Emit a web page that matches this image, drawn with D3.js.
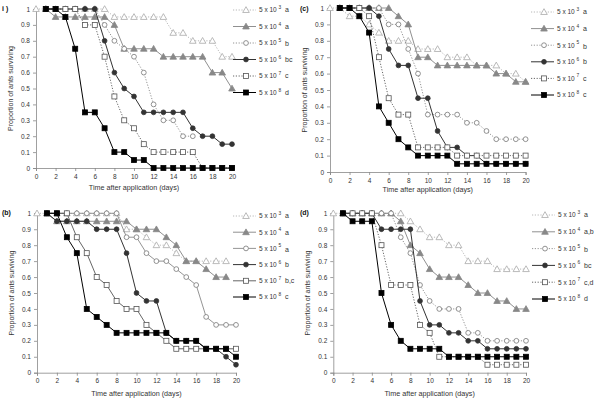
<!DOCTYPE html>
<html><head><meta charset="utf-8">
<script src="https://cdn.jsdelivr.net/npm/d3@7"></script>
<style>body{margin:0;background:#fff}svg{display:block;font-family:"Liberation Sans",Arial,sans-serif}</style>
</head><body><svg id="c" width="600" height="400"></svg>
<script>
// ---- data (days 0..20, null = no point) ----
const days = [0,1,2,3,4,5,6,7,8,9,10,11,12,13,14,15,16,17,18,19,20];
const xTicks = [0,2,4,6,8,10,12,14,16,18,20];
const yTicks = [0,0.1,0.2,0.3,0.4,0.5,0.6,0.7,0.8,0.9,1];
const doseExp = ["3","4","5","6","7","8"];

const a3 = [1,1,1,1,1,1,1,1,0.95,0.95,0.95,0.95,0.95,0.95,0.85,0.85,0.8,0.8,0.8,0.7,0.7];
const a4 = [null,1,0.95,0.95,0.95,0.95,0.95,0.95,0.9,0.75,0.75,0.75,0.75,0.7,0.7,0.7,0.7,0.7,0.6,0.6,0.5];
const a5 = [null,1,1,1,1,1,1,0.9,0.8,0.75,0.7,0.6,0.4,0.3,0.3,0.2,0.2,null,null,null,null];
const a6 = [null,1,1,1,1,1,1,0.8,0.6,0.5,0.45,0.35,0.35,0.35,0.35,0.35,0.25,0.2,0.2,0.15,0.15];
const a7 = [null,1,1,1,1,0.9,0.9,0.7,0.45,0.3,0.25,0.15,0.1,0.1,0.1,0.1,0.1,0,0,0,0];
const a8 = [null,1,1,0.95,0.75,0.35,0.35,0.25,0.1,0.1,0.05,0.05,0,0,0,0,0,0,0,0,0];
const lettersA = ["a","a","b","bc","c","d"];

const c3 = [1,1,0.95,0.95,0.9,0.85,0.8,0.8,0.8,0.75,0.75,0.75,0.7,0.7,0.7,0.65,0.65,0.65,0.6,0.6,0.55];
const c4 = [null,1,1,1,1,1,1,0.95,0.9,0.7,0.7,0.65,0.65,0.65,0.65,0.65,0.65,0.6,0.6,0.55,0.55];
const c5 = [null,1,1,1,1,1,0.9,0.9,0.75,0.6,0.35,0.35,0.35,0.35,0.3,0.3,0.25,0.2,0.2,0.2,0.2];
const c6 = [null,1,1,1,1,0.95,0.75,0.65,0.65,0.45,0.45,0.25,0.15,0.15,0.1,0.1,0.05,0.05,0.05,0.05,0.05];
const c7 = [null,1,1,1,0.95,0.7,0.45,0.35,0.35,0.15,0.15,0.15,0.15,0.1,0.1,0.1,0.1,0.1,0.1,0.1,0.1];
const c8 = [null,1,1,0.95,0.85,0.4,0.3,0.2,0.15,0.1,0.1,0.1,0.1,0.05,0.05,0.05,0.05,0.05,0.05,0.05,0.05];
const lettersC = ["a","a","b","b","c","c"];

const b3 = [1,1,1,1,1,1,1,1,1,0.9,0.9,0.85,0.8,0.8,0.75,0.7,0.7,0.7,0.7,0.7,null];
const b4 = [null,1,0.95,0.95,0.95,0.95,0.95,0.95,0.95,0.95,0.9,0.9,0.9,0.85,0.8,0.7,0.7,0.65,0.6,0.6,null];
const b5 = [null,1,1,1,1,1,1,1,1,0.85,0.85,0.75,0.7,0.7,0.65,0.6,0.55,0.35,0.3,0.3,0.3];
const b6 = [null,1,0.95,0.95,0.95,0.95,0.9,0.9,0.9,0.75,0.5,0.45,0.45,0.25,0.2,0.2,0.2,0.15,0.15,0.1,0.05];
const b7 = [null,1,1,1,0.85,0.75,0.6,0.55,0.45,0.4,0.4,0.3,0.25,0.2,0.15,0.15,0.15,0.15,0.15,0.15,0.15];
const b8 = [null,1,1,0.85,0.75,0.4,0.35,0.3,0.25,0.25,0.25,0.25,0.25,0.25,0.2,0.2,0.2,0.15,0.15,0.15,0.1];
const lettersB = ["a","a","a","b","b,c","c"];

const d3v = [1,1,1,1,1,1,1,1,0.95,0.9,0.85,0.85,0.8,0.8,0.7,0.7,0.7,0.65,0.65,0.65,0.65];
const d4v = [null,1,1,1,1,1,1,0.95,0.8,0.75,0.65,0.6,0.6,0.6,0.55,0.5,0.5,0.45,0.45,0.4,0.4];
const d5v = [null,1,1,1,1,1,1,0.85,0.75,0.55,0.45,0.4,0.4,0.4,0.25,0.25,0.2,0.2,0.2,0.2,0.2];
const d6v = [null,1,1,1,1,0.9,0.9,0.9,0.9,0.45,0.3,0.3,0.25,0.25,0.2,0.2,0.15,0.15,0.15,0.15,0.15];
const d7v = [null,1,1,1,1,0.8,0.55,0.55,0.55,0.3,0.25,0.1,0.1,0.1,0.1,0.1,0.05,0.05,0.05,0.05,0.05];
const d8v = [null,1,0.95,0.95,0.95,0.5,0.3,0.2,0.15,0.15,0.15,0.15,0.1,0.1,0.1,0.1,0.1,0.1,0.1,0.1,0.1];
const lettersD = ["a","a,b","b","bc","c,d","d"];

// ---- styles per dose ----
const styles = [
  {marker:"tri", fill:"#fff", stroke:"#aaa", line:"#b0b0b0", dash:"1.2,1.6"},
  {marker:"tri", fill:"#888", stroke:"#888", line:"#909090", dash:null},
  {marker:"circ", fill:"#fff", stroke:"#777", line:"#888", dash:"1.2,1.6"},
  {marker:"circ", fill:"#333", stroke:"#333", line:"#333", dash:null},
  {marker:"sq", fill:"#fff", stroke:"#555", line:"#555", dash:"1.2,1.6"},
  {marker:"sq", fill:"#000", stroke:"#000", line:"#000", dash:null}
];

const panels = [
  {label:"i )", lx:2, ly:11, x0:36, x1:232, yT:9, yB:168, data:[a3,a4,a5,a6,a7,a8], letters:lettersA, legX:233, legY:10, legStep:16.5, xTitleY:190, solid57:false},
  {label:"(c)", lx:300, ly:11, x0:330, x1:525.6, yT:8, yB:172, data:[c3,c4,c5,c6,c7,c8], letters:lettersC, legX:531, legY:12, legStep:16.6, xTitleY:192, solid57:false},
  {label:"(b)", lx:2, ly:215, x0:37, x1:236, yT:213.3, yB:372.7, data:[b3,b4,b5,b6,b7,b8], letters:lettersB, legX:233, legY:216, legStep:16.2, xTitleY:396, solid57:true},
  {label:"(d)", lx:300, ly:215, x0:333.3, x1:526, yT:213.3, yB:372.7, data:[d3v,d4v,d5v,d6v,d7v,d8v], letters:lettersD, legX:532, legY:215, legStep:16.8, xTitleY:396, solid57:false}
];

const svg = d3.select("#c");

function drawMarker(g, type, cx, cy, st){
  if(type==="tri"){
    const s=3.3;
    g.append("path").attr("d",`M${cx},${cy-s}L${cx+s},${cy+s*0.75}L${cx-s},${cy+s*0.75}Z`)
      .attr("fill",st.fill).attr("stroke",st.stroke).attr("stroke-width",0.8);
  } else if(type==="circ"){
    g.append("circle").attr("cx",cx).attr("cy",cy).attr("r",2.4)
      .attr("fill",st.fill).attr("stroke",st.stroke).attr("stroke-width",0.8);
  } else {
    const s=2.5;
    g.append("rect").attr("x",cx-s).attr("y",cy-s).attr("width",2*s).attr("height",2*s)
      .attr("fill",st.fill).attr("stroke",st.stroke).attr("stroke-width",0.8);
  }
}

panels.forEach(p=>{
  const x = d3.scaleLinear().domain([0,20]).range([p.x0,p.x1]);
  const y = d3.scaleLinear().domain([0,1]).range([p.yB,p.yT]);
  const g = svg.append("g");

  // axes
  const ax = g.append("g").attr("transform",`translate(0,${p.yB})`)
    .call(d3.axisBottom(x).tickValues(xTicks).tickSize(3).tickPadding(3).tickFormat(d3.format("d")));
  const ay = g.append("g").attr("transform",`translate(${p.x0},0)`)
    .call(d3.axisLeft(y).tickValues(yTicks).tickSize(3).tickFormat(d=>d===0||d===1?String(d):d3.format(".1f")(d)));
  [ax,ay].forEach(a=>{
    a.selectAll("path,line").attr("stroke","#888").attr("stroke-width",0.8);
    a.selectAll("text").attr("fill","#333").attr("font-size","6.5px");
  });

  // titles
  g.append("text").attr("x",p.lx).attr("y",p.ly).attr("font-size","7px").attr("font-weight","bold").attr("fill","#111").text(p.label);
  g.append("text").attr("transform",`translate(${p.x0-23},${(p.yT+p.yB)/2}) rotate(-90)`)
    .attr("text-anchor","middle").attr("font-size","7px").attr("fill","#333").text("Proportion of ants surviving");
  g.append("text").attr("x",(p.x0+p.x1)/2).attr("y",p.xTitleY).attr("text-anchor","middle")
    .attr("font-size","7.2px").attr("fill","#333").text("Time after application (days)");

  // series
  p.data.forEach((vals,i)=>{
    const st = Object.assign({}, styles[i]);
    if(p.solid57 && (i===2||i===4)) st.dash=null;
    const pts = days.map((d,k)=>({d, v:vals[k]})).filter(o=>o.v!==null);
    const line = d3.line().x(o=>x(o.d)).y(o=>y(o.v));
    g.append("path").attr("d",line(pts)).attr("fill","none").attr("stroke",st.line)
      .attr("stroke-width",i%2===1?1:0.9).attr("stroke-dasharray",st.dash);
    const mg = g.append("g");
    pts.forEach(o=>drawMarker(mg, st.marker, x(o.d), y(o.v), st));

    // legend
    const ly = p.legY + i*p.legStep;
    const lg = g.append("g");
    lg.append("line").attr("x1",p.legX).attr("x2",p.legX+23).attr("y1",ly).attr("y2",ly)
      .attr("stroke",st.line).attr("stroke-width",i%2===1?1:0.9).attr("stroke-dasharray",st.dash);
    drawMarker(lg, st.marker, p.legX+13, ly, st);
    lg.append("text").attr("x",p.legX+26).attr("y",ly+2.3).attr("font-size","6.5px").attr("fill","#333").text("5 x 10");
    lg.append("text").attr("x",p.legX+45.5).attr("y",ly-1).attr("font-size","4.8px").attr("fill","#333").text(doseExp[i]);
    lg.append("text").attr("x",p.legX+52).attr("y",ly+2.3+(i===2?1:0)).attr("font-size","7px").attr("fill","#333").text(p.letters[i]);
  });
});
</script>
</body></html>
